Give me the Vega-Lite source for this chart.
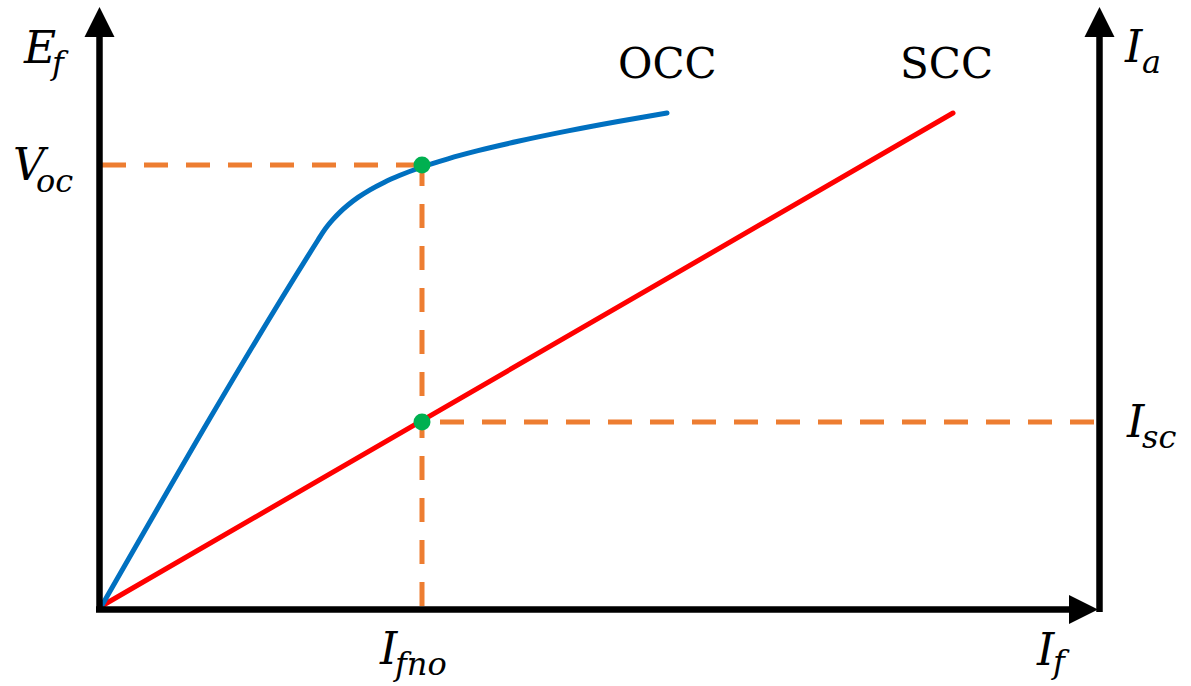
{
  "$schema": "https://vega.github.io/schema/vega-lite/v6.json",
  "width": 1191,
  "height": 686,
  "autosize": {"type": "fit", "contains": "padding"},
  "padding": 0,
  "background": "white",
  "config": {"view": {"stroke": null}},
  "datasets": {
    "segments": [
      {"part": "left axis", "x": -0.5, "y": -3, "x2": -0.5, "y2": 572},
      {"part": "right axis", "x": 999.5, "y": -3, "x2": 999.5, "y2": 572},
      {"part": "bottom axis", "x": -4, "y": -0.5, "x2": 972, "y2": -0.5}
    ],
    "guides": [
      {"part": "Voc level", "x": 2, "y": 444, "x2": 322, "y2": 444},
      {"part": "Ifno", "x": 322, "y": 447, "x2": 322, "y2": 2},
      {"part": "Isc level", "x": 340, "y": 187, "x2": 997, "y2": 187}
    ],
    "arrowsUp": [
      {"x": -0.5, "y": 587},
      {"x": 999.5, "y": 587}
    ],
    "arrowRight": [
      {"x": 983.5, "y": -0.5}
    ],
    "scc": [
      {"If": 0, "v": 2},
      {"If": 853, "v": 496}
    ],
    "occ": [
      {"If": 1, "v": 2},
      {"If": 218, "v": 369},
      {"If": 223, "v": 376.9},
      {"If": 228, "v": 383.7},
      {"If": 233, "v": 389.6},
      {"If": 240, "v": 396.9},
      {"If": 248, "v": 404},
      {"If": 258, "v": 411.6},
      {"If": 270, "v": 419.2},
      {"If": 284, "v": 426.6},
      {"If": 300, "v": 433.7},
      {"If": 322, "v": 442},
      {"If": 348, "v": 450.2},
      {"If": 378, "v": 458.3},
      {"If": 418, "v": 467.7},
      {"If": 468, "v": 478.1},
      {"If": 518, "v": 487.5},
      {"If": 567, "v": 496}
    ],
    "dots": [
      {"If": 322, "v": 444},
      {"If": 322, "v": 187}
    ],
    "words": [
      {"x": 518, "y": 531, "t": "OCC"},
      {"x": 800, "y": 531, "t": "SCC"}
    ],
    "symbols": [
      {"x": -76, "y": 546, "t": "E"},
      {"x": -87, "y": 429, "t": "V"},
      {"x": 280, "y": -55, "t": "I"},
      {"x": 937, "y": -56, "t": "I"},
      {"x": 1025, "y": 547, "t": "I"},
      {"x": 1027, "y": 172, "t": "I"}
    ],
    "subs": [
      {"x": -48, "y": 535, "t": "f"},
      {"x": -64, "y": 417, "t": "oc"},
      {"x": 295, "y": -66, "t": "fno"},
      {"x": 953, "y": -64, "t": "f"},
      {"x": 1042, "y": 536, "t": "a"},
      {"x": 1042, "y": 161, "t": "sc"}
    ]
  },
  "layer": [
    {
      "data": {"name": "guides"},
      "mark": {"type": "rule", "color": "#ED7D31", "strokeWidth": 5, "strokeDash": [24, 18], "strokeCap": "butt"},
      "encoding": {
        "x": {"field": "x", "type": "quantitative", "scale": {"domain": [-100, 1091], "nice": false, "zero": false}, "axis": null},
        "y": {"field": "y", "type": "quantitative", "scale": {"domain": [-77, 609], "nice": false, "zero": false}, "axis": null},
        "x2": {"field": "x2"},
        "y2": {"field": "y2"}
      }
    },
    {
      "data": {"name": "scc"},
      "mark": {"type": "line", "color": "#FF0000", "strokeWidth": 5, "strokeCap": "round"},
      "encoding": {
        "x": {"field": "If", "type": "quantitative", "scale": {"domain": [-100, 1091], "nice": false, "zero": false}, "axis": null},
        "y": {"field": "v", "type": "quantitative", "scale": {"domain": [-77, 609], "nice": false, "zero": false}, "axis": null}
      }
    },
    {
      "data": {"name": "occ"},
      "mark": {"type": "line", "color": "#0070C0", "strokeWidth": 5, "strokeCap": "round", "interpolate": "monotone"},
      "encoding": {
        "x": {"field": "If", "type": "quantitative", "scale": {"domain": [-100, 1091], "nice": false, "zero": false}, "axis": null},
        "y": {"field": "v", "type": "quantitative", "scale": {"domain": [-77, 609], "nice": false, "zero": false}, "axis": null}
      }
    },
    {
      "data": {"name": "dots"},
      "mark": {"type": "point", "shape": "circle", "filled": true, "color": "#00B050", "opacity": 1, "size": 289, "strokeWidth": 0},
      "encoding": {
        "x": {"field": "If", "type": "quantitative", "scale": {"domain": [-100, 1091], "nice": false, "zero": false}, "axis": null},
        "y": {"field": "v", "type": "quantitative", "scale": {"domain": [-77, 609], "nice": false, "zero": false}, "axis": null}
      }
    },
    {
      "data": {"name": "segments"},
      "mark": {"type": "rule", "color": "#000000", "strokeWidth": 6.5, "strokeCap": "butt"},
      "encoding": {
        "x": {"field": "x", "type": "quantitative", "scale": {"domain": [-100, 1091], "nice": false, "zero": false}, "axis": null},
        "y": {"field": "y", "type": "quantitative", "scale": {"domain": [-77, 609], "nice": false, "zero": false}, "axis": null},
        "x2": {"field": "x2"},
        "y2": {"field": "y2"}
      }
    },
    {
      "data": {"name": "arrowsUp"},
      "mark": {"type": "point", "shape": "M0,-1L1,1L-1,1Z", "filled": true, "color": "#000000", "opacity": 1, "size": 900, "strokeWidth": 0},
      "encoding": {
        "x": {"field": "x", "type": "quantitative", "scale": {"domain": [-100, 1091], "nice": false, "zero": false}, "axis": null},
        "y": {"field": "y", "type": "quantitative", "scale": {"domain": [-77, 609], "nice": false, "zero": false}, "axis": null}
      }
    },
    {
      "data": {"name": "arrowRight"},
      "mark": {"type": "point", "shape": "M1,0L-1,-1L-1,1Z", "filled": true, "color": "#000000", "opacity": 1, "size": 841, "strokeWidth": 0},
      "encoding": {
        "x": {"field": "x", "type": "quantitative", "scale": {"domain": [-100, 1091], "nice": false, "zero": false}, "axis": null},
        "y": {"field": "y", "type": "quantitative", "scale": {"domain": [-77, 609], "nice": false, "zero": false}, "axis": null}
      }
    },
    {
      "data": {"name": "words"},
      "mark": {"type": "text", "font": "DejaVu Serif", "fontSize": 42, "align": "left", "baseline": "alphabetic", "color": "#000000"},
      "encoding": {
        "x": {"field": "x", "type": "quantitative", "scale": {"domain": [-100, 1091], "nice": false, "zero": false}, "axis": null},
        "y": {"field": "y", "type": "quantitative", "scale": {"domain": [-77, 609], "nice": false, "zero": false}, "axis": null},
        "text": {"field": "t"}
      }
    },
    {
      "data": {"name": "symbols"},
      "mark": {"type": "text", "font": "DejaVu Serif", "fontStyle": "italic", "fontSize": 44, "align": "left", "baseline": "alphabetic", "color": "#000000"},
      "encoding": {
        "x": {"field": "x", "type": "quantitative", "scale": {"domain": [-100, 1091], "nice": false, "zero": false}, "axis": null},
        "y": {"field": "y", "type": "quantitative", "scale": {"domain": [-77, 609], "nice": false, "zero": false}, "axis": null},
        "text": {"field": "t"}
      }
    },
    {
      "data": {"name": "subs"},
      "mark": {"type": "text", "font": "DejaVu Serif", "fontStyle": "italic", "fontSize": 32, "align": "left", "baseline": "alphabetic", "color": "#000000"},
      "encoding": {
        "x": {"field": "x", "type": "quantitative", "scale": {"domain": [-100, 1091], "nice": false, "zero": false}, "axis": null},
        "y": {"field": "y", "type": "quantitative", "scale": {"domain": [-77, 609], "nice": false, "zero": false}, "axis": null},
        "text": {"field": "t"}
      }
    }
  ]
}
